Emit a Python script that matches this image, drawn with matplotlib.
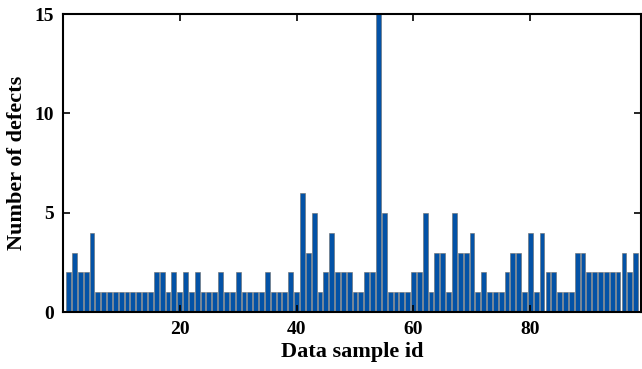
import numpy as np
import matplotlib
matplotlib.use("Agg")
from matplotlib import pyplot as plt

# defects counted per data sample
sample_ids = np.arange(1, 99)
defects = [2, 3, 2, 2, 4, 1, 1, 1, 1, 1,
           1, 1, 1, 1, 1, 2, 2, 1, 2, 1,
           2, 1, 2, 1, 1, 1, 2, 1, 1, 2,
           1, 1, 1, 1, 2, 1, 1, 1, 2, 1,
           6, 3, 5, 1, 2, 4, 2, 2, 2, 1,
           1, 2, 2, 15, 5, 1, 1, 1, 1, 2,
           2, 5, 1, 3, 3, 1, 5, 3, 3, 4,
           1, 2, 1, 1, 1, 2, 3, 3, 1, 4,
           1, 4, 2, 2, 1, 1, 1, 3, 3, 2,
           2, 2, 2, 2, 2, 3, 2, 3]
x_ticks = [20, 40, 60, 80]
y_ticks = [0, 5, 10, 15]

plt.rcParams["font.family"] = ["Liberation Serif", "DejaVu Serif"]
plt.rcParams["font.weight"] = "bold"

fig = plt.figure(figsize=(6.42, 3.69), dpi=100)
ax = fig.add_axes([0.0977, 0.154, 0.9015, 0.808])

ax.bar(sample_ids, defects, width=0.82, color="#0352A6",
       edgecolor="#6b6b6b", linewidth=0.4)

ax.set_xlim(0, 99)
ax.set_ylim(0, 15)
ax.set_xticks(x_ticks)
ax.set_yticks(y_ticks)
ax.tick_params(direction="in", top=True, right=True, length=5, width=1.2,
               labelsize=14, pad=6)
for lbl in ax.get_xticklabels() + ax.get_yticklabels():
    lbl.set_fontweight("bold")
for sp in ax.spines.values():
    sp.set_linewidth(1.5)

ax.set_xlabel("Data sample id", fontsize=16, fontweight="bold", labelpad=3)
ax.set_ylabel("Number of defects", fontsize=16, fontweight="bold", labelpad=6)

fig.savefig("out.png", dpi=100)
